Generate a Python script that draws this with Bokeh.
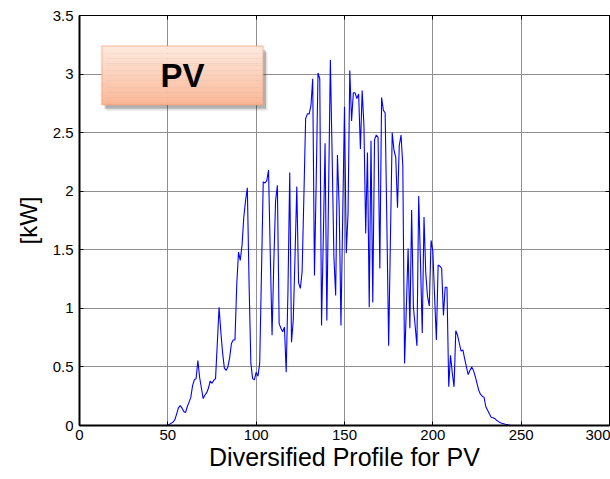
import numpy as np
from bokeh.plotting import figure
from bokeh.models import (LinearAxis, FixedTicker, CustomJSTickFormatter,
                          BoxAnnotation, Label, Range1d)
from bokeh.embed import file_html
from bokeh.resources import INLINE

# ---------------- data ----------------
x_ticks = [0, 50, 100, 150, 200, 250, 300]
y_ticks = [0, 0.5, 1, 1.5, 2, 2.5, 3, 3.5]
x_label = "Diversified Profile for PV"
y_label = "[kW]"
badge_text = "PV"

# samples 1..49 (night, before sunrise)
pv_before = [0.0, 0.0, 0.0, 0.0, 0.0, 0.0, 0.0, 0.0, 0.0, 0.0,
             0.0, 0.0, 0.0, 0.0, 0.0, 0.0, 0.0, 0.0, 0.0, 0.0,
             0.0, 0.0, 0.0, 0.0, 0.0, 0.0, 0.0, 0.0, 0.0, 0.0,
             0.0, 0.0, 0.0, 0.0, 0.0, 0.0, 0.0, 0.0, 0.0, 0.0,
             0.0, 0.0, 0.0, 0.0, 0.0, 0.0, 0.0, 0.0, 0.0]

# samples 50..244 (daylight)
pv_day = [
    0.00, 0.01, 0.02, 0.03, 0.05, 0.10, 0.15, 0.17, 0.15, 0.12,      # 50-59
    0.11, 0.16, 0.20, 0.24, 0.34, 0.39, 0.40, 0.555, 0.41, 0.32,     # 60-69
    0.23, 0.26, 0.28, 0.32, 0.38, 0.36, 0.385, 0.40, 0.70, 1.01,     # 70-79
    0.80, 0.62, 0.49, 0.47, 0.50, 0.58, 0.70, 0.73, 0.73, 1.20,      # 80-89
    1.48, 1.41, 1.54, 1.78, 1.92, 2.03, 1.20, 0.53, 0.40, 0.39,      # 90-99
    0.455, 0.42, 0.53, 1.30, 2.08, 2.07, 2.09, 2.18, 1.45, 0.77,     # 100-109
    1.40, 1.92, 2.05, 0.87, 0.83, 0.80, 0.84, 0.455, 1.15, 2.16,     # 110-119
    0.71, 0.90, 1.45, 2.04, 1.22, 1.17, 1.31, 1.95, 2.62, 2.66,      # 120-129
    2.66, 2.73, 2.96, 1.28, 2.10, 3.01, 2.96, 0.854, 1.60, 2.41,     # 130-139
    0.897, 2.00, 3.12, 2.30, 1.44, 1.11, 2.31, 1.86, 0.854, 1.80,    # 140-149
    2.72, 1.47, 1.81, 3.03, 2.60, 2.84, 2.84, 2.79, 2.83, 2.36,      # 150-159
    2.86, 2.56, 1.64, 2.33, 1.01, 2.43, 1.05, 2.44, 2.48, 2.46,      # 160-169
    1.34, 2.80, 2.69, 2.67, 1.70, 0.68, 1.60, 2.50, 2.35, 2.29,      # 170-179
    1.86, 2.39, 2.48, 2.22, 0.53, 1.00, 1.51, 0.83, 1.84, 1.01,      # 180-189
    0.85, 0.68, 1.96, 1.40, 0.79, 1.78, 1.30, 1.10, 1.02, 1.58,      # 190-199
    1.49, 1.10, 0.73, 1.37, 1.36, 1.34, 0.94, 1.18, 1.18, 0.33,      # 200-209
    0.60, 0.45, 0.33, 0.81, 0.77, 0.70, 0.635, 0.645, 0.57, 0.50,    # 210-219
    0.435, 0.47, 0.50, 0.47, 0.42, 0.36, 0.30, 0.265, 0.25, 0.24,    # 220-229
    0.16, 0.13, 0.10, 0.07, 0.066, 0.06, 0.045, 0.035, 0.026, 0.02,  # 230-239
    0.015, 0.01, 0.008, 0.004, 0.0,                                  # 240-244
]

# samples 245..288 (evening / night)
pv_after = [0.0, 0.0, 0.0, 0.0, 0.0, 0.0, 0.0, 0.0, 0.0, 0.0,
            0.0, 0.0, 0.0, 0.0, 0.0, 0.0, 0.0, 0.0, 0.0, 0.0,
            0.0, 0.0, 0.0, 0.0, 0.0, 0.0, 0.0, 0.0, 0.0, 0.0,
            0.0, 0.0, 0.0, 0.0, 0.0, 0.0, 0.0, 0.0, 0.0, 0.0,
            0.0, 0.0, 0.0, 0.0]

pv_values = pv_before + pv_day + pv_after
pv_index = list(range(1, len(pv_values) + 1))

# ---------------- figure ----------------
FONT = "Liberation Sans"

p = figure(width=610, height=479,
           x_range=Range1d(0, 300), y_range=Range1d(0, 3.5),
           output_backend="svg", toolbar_location=None,
           min_border_left=79, min_border_right=1,
           min_border_top=15, min_border_bottom=54)

p.background_fill_color = "white"
p.border_fill_color = "white"
p.outline_line_color = "black"
p.outline_line_width = 1

p.line(pv_index, pv_values, line_color="#0000ff", line_width=1.1)

xt = FixedTicker(ticks=x_ticks)
yt = FixedTicker(ticks=y_ticks)
p.xaxis.ticker = xt
p.yaxis.ticker = yt
p.xgrid.ticker = xt
p.ygrid.ticker = yt
p.yaxis.formatter = CustomJSTickFormatter(code="return String(tick);")

for g in (p.xgrid, p.ygrid):
    g.grid_line_color = "#8f8f8f"
    g.grid_line_width = 1

for ax in (p.xaxis[0], p.yaxis[0]):
    ax.axis_line_color = "black"
    ax.axis_line_width = 2
    ax.major_tick_in = 4
    ax.major_tick_out = 0
    ax.major_tick_line_color = "black"
    ax.minor_tick_line_color = None
    ax.major_label_text_font = FONT
    ax.major_label_text_font_size = "15px"
    ax.major_label_text_color = "black"
    ax.axis_label_text_font = FONT
    ax.axis_label_text_font_style = "normal"
    ax.axis_label_text_color = "black"

p.xaxis.axis_label = x_label
p.xaxis.axis_label_text_font_size = "25px"
p.xaxis.major_label_standoff = 4
p.xaxis.axis_label_standoff = 0

p.yaxis.axis_label = y_label
p.yaxis.axis_label_text_font_size = "24px"
p.yaxis.major_label_standoff = 6
p.yaxis.axis_label_standoff = 8

top_axis = LinearAxis(ticker=FixedTicker(ticks=x_ticks),
                      major_label_text_font_size="0px", major_label_standoff=0,
                      major_tick_in=4, major_tick_out=0,
                      minor_tick_line_color=None, axis_line_color="black")
right_axis = LinearAxis(ticker=FixedTicker(ticks=y_ticks),
                        major_label_text_font_size="0px", major_label_standoff=0,
                        major_tick_in=4, major_tick_out=0,
                        minor_tick_line_color=None, axis_line_color="black")
p.add_layout(top_axis, "above")
p.add_layout(right_axis, "right")

# ---------------- "PV" badge ----------------
bx0, bx1 = 12.6, 104.0
by0, by1 = 2.739, 3.239
sdx, sdy = 1.6, 0.035

p.add_layout(BoxAnnotation(left=bx0 + sdx * 1.5, right=bx1 + sdx * 1.5,
                           bottom=by0 - sdy * 1.5, top=by1 - sdy * 1.5,
                           fill_color="#000000", fill_alpha=0.10, line_color=None))
p.add_layout(BoxAnnotation(left=bx0 + sdx, right=bx1 + sdx,
                           bottom=by0 - sdy, top=by1 - sdy,
                           fill_color="#000000", fill_alpha=0.22, line_color=None))

n_strips = 24
top_rgb = np.array([253, 233, 223])
bot_rgb = np.array([251, 184, 150])
for i in range(n_strips):
    t = (i + 0.5) / n_strips
    c = top_rgb + (bot_rgb - top_rgb) * t
    col = "#%02x%02x%02x" % tuple(int(round(v)) for v in c)
    s_top = by1 - (by1 - by0) * i / n_strips
    s_bot = by1 - (by1 - by0) * (i + 1) / n_strips
    p.add_layout(BoxAnnotation(left=bx0, right=bx1, bottom=s_bot - 0.002, top=s_top,
                               fill_color=col, fill_alpha=1.0, line_color=None))

p.add_layout(BoxAnnotation(left=bx0, right=bx1, bottom=by0, top=by1,
                           fill_color=None, fill_alpha=0.0,
                           line_color="#ee8c55", line_width=2))

p.add_layout(Label(x=(bx0 + bx1) / 2, y=(by0 + by1) / 2, text=badge_text,
                   text_font=FONT, text_font_style="bold", text_font_size="33px",
                   text_color="black", text_align="center", text_baseline="middle"))

open("out.html", "w").write(file_html(p, INLINE))
